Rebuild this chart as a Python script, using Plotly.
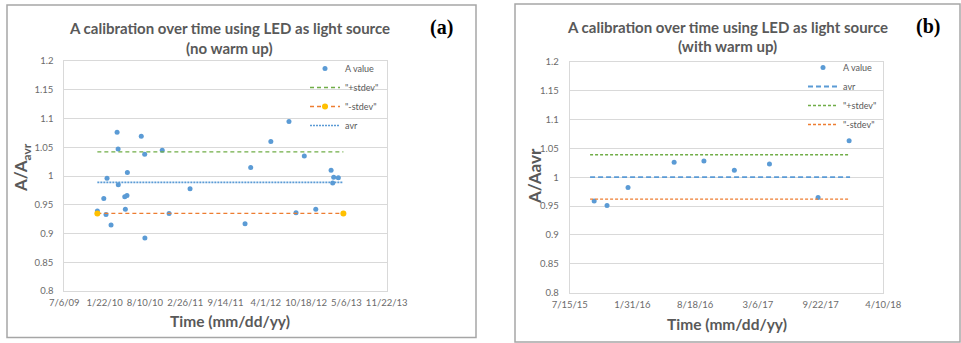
import pandas as pd
import plotly.graph_objects as go

# ---------------- data (Excel serial day numbers) ----------------
# Panel (a): no warm up
a_days = [40164, 40196, 40207, 40212, 40232, 40262, 40267, 40268, 40300, 40303,
          40311, 40313, 40382, 40399, 40400, 40486, 40520, 40624, 40897, 40925,
          41025, 41115, 41150, 41191, 41248, 41324, 41332, 41337, 41360]
a_vals = [0.939, 0.961, 0.933, 0.996, 0.915, 1.076, 1.047, 0.985, 0.964, 0.942,
          0.966, 1.006, 1.069, 1.038, 0.892, 1.045, 0.935, 0.978, 0.917, 1.015,
          1.060, 1.095, 0.936, 1.035, 0.942, 1.010, 0.988, 0.998, 0.997]
a_line_days = [40164, 41385]
a_plus = [1.042, 1.042]
a_minus = [0.935, 0.935]
a_avr = [0.989, 0.989]

# Panel (b): with warm up
b_days = [42278, 42319, 42386, 42533, 42628, 42725, 42837, 42992, 43091]
b_vals = [0.959, 0.951, 0.982, 1.026, 1.028, 1.012, 1.023, 0.965, 1.063]
b_line_days = [42265, 43094]
b_avr = [1.000, 1.000]
b_plus = [1.039, 1.039]
b_minus = [0.962, 0.962]

# axis ticks
a_tick_days = [40000, 40200, 40400, 40600, 40800, 41000, 41200, 41400, 41600]
a_tick_text = ["7/6/09", "1/22/10", "8/10/10", "2/26/11", "9/14/11", "4/1/12",
               "10/18/12", "5/6/13", "11/22/13"]
b_tick_days = [42200, 42400, 42600, 42800, 43000, 43200]
b_tick_text = ["7/15/15", "1/31/16", "8/18/16", "3/6/17", "9/22/17", "4/10/18"]
y_ticks = [0.8, 0.85, 0.9, 0.95, 1.0, 1.05, 1.1, 1.15, 1.2]
y_tick_text = ["0.8", "0.85", "0.9", "0.95", "1", "1.05", "1.1", "1.15", "1.2"]


def d(serials):
    return pd.to_datetime(serials, unit="D", origin="1899-12-30")


W, H = 961, 343
BLUE = "#5B9BD5"
ORANGE = "#ED7D31"
GREEN = "#70AD47"
YELLOW = "#FFC000"
GRAY = "#595959"
GRID = "#D9D9D9"
TICKF = dict(family="Lato, Open Sans, sans-serif", size=9.5, color="#6b6b6b")

fig = go.Figure()

# ---- panel a ----
fig.add_trace(go.Scatter(x=d(a_days), y=a_vals, mode="markers", name="A value",
                         marker=dict(color=BLUE, size=5), xaxis="x", yaxis="y",
                         legend="legend"))
fig.add_trace(go.Scatter(x=d(a_line_days), y=a_plus, mode="lines", name='"+stdev"',
                         line=dict(color=GREEN, width=1.4, dash="4px,3px"),
                         xaxis="x", yaxis="y", legend="legend"))
fig.add_trace(go.Scatter(x=d(a_line_days), y=a_minus, mode="lines+markers", name='"-stdev"',
                         line=dict(color=ORANGE, width=1.4, dash="4px,3px"),
                         marker=dict(color=YELLOW, size=6),
                         xaxis="x", yaxis="y", legend="legend"))
fig.add_trace(go.Scatter(x=d(a_line_days), y=a_avr, mode="lines", name="avr",
                         line=dict(color=BLUE, width=1.6, dash="2px,1px"),
                         xaxis="x", yaxis="y", legend="legend"))

# ---- panel b ----
fig.add_trace(go.Scatter(x=d(b_days), y=b_vals, mode="markers", name="A value",
                         marker=dict(color=BLUE, size=5), xaxis="x2", yaxis="y2",
                         legend="legend2"))
fig.add_trace(go.Scatter(x=d(b_line_days), y=b_avr, mode="lines", name="avr",
                         line=dict(color=BLUE, width=1.8, dash="5px,3px"),
                         xaxis="x2", yaxis="y2", legend="legend2"))
fig.add_trace(go.Scatter(x=d(b_line_days), y=b_plus, mode="lines", name='"+stdev"',
                         line=dict(color=GREEN, width=1.4, dash="3px,2px"),
                         xaxis="x2", yaxis="y2", legend="legend2"))
fig.add_trace(go.Scatter(x=d(b_line_days), y=b_minus, mode="lines", name='"-stdev"',
                         line=dict(color=ORANGE, width=1.4, dash="3px,2px"),
                         xaxis="x2", yaxis="y2", legend="legend2"))


def px_x(p):
    return p / W


def px_y(p):
    return 1 - p / H


xcommon = dict(type="date", showgrid=False, showline=True, linecolor=GRID, linewidth=1,
               mirror=True, ticks="outside", ticklen=3, tickcolor="rgba(0,0,0,0)",
               tickfont=TICKF, zeroline=False, fixedrange=True, automargin=False)
ycommon = dict(range=[0.8, 1.2], tickvals=y_ticks, ticktext=y_tick_text, showgrid=True,
               gridcolor=GRID, gridwidth=1, showline=True, linecolor=GRID, mirror=True,
               ticks="outside", ticklen=8, tickcolor="rgba(0,0,0,0)", tickfont=TICKF,
               zeroline=False, fixedrange=True, automargin=False)

legfont = dict(family="Lato, Open Sans, sans-serif", size=9, color=GRAY)

fig.update_layout(
    template="none",
    width=W, height=H, margin=dict(l=0, r=0, t=0, b=0, pad=0), autosize=False,
    paper_bgcolor="white", plot_bgcolor="white",
    xaxis=dict(xcommon, domain=[px_x(64.3), px_x(386.7)], anchor="y",
               range=[d([a_tick_days[0]])[0], d([a_tick_days[-1]])[0]],
               tickvals=d(a_tick_days), ticktext=a_tick_text),
    yaxis=dict(ycommon, domain=[px_y(291), px_y(61)], anchor="x"),
    xaxis2=dict(xcommon, domain=[px_x(569.7), px_x(883.3)], anchor="y2",
                range=[d([b_tick_days[0]])[0], d([b_tick_days[-1]])[0]],
                tickvals=d(b_tick_days), ticktext=b_tick_text),
    yaxis2=dict(ycommon, domain=[px_y(292.7), px_y(61.7)], anchor="x2"),
    legend=dict(x=px_x(384), y=px_y(54), xanchor="right", yanchor="top",
                bgcolor="rgba(0,0,0,0)", font=legfont, tracegroupgap=0,
                itemwidth=30, borderwidth=0),
    legend2=dict(x=px_x(882), y=px_y(53), xanchor="right", yanchor="top",
                 bgcolor="rgba(0,0,0,0)", font=legfont, tracegroupgap=0,
                 itemwidth=30, borderwidth=0),
    showlegend=True,
)

# panel borders
fig.add_shape(type="rect", xref="paper", yref="paper", x0=px_x(7), x1=px_x(476),
              y0=px_y(337.5), y1=px_y(5), line=dict(color="#A6A6A6", width=1.5))
fig.add_shape(type="rect", xref="paper", yref="paper", x0=px_x(515), x1=px_x(960),
              y0=px_y(342), y1=px_y(4), line=dict(color="#A6A6A6", width=1.5))

TITLEF = dict(family="Lato, Open Sans, sans-serif", size=15, color=GRAY)
AXTF = dict(family="Lato, Open Sans, sans-serif", size=15.5, color=GRAY)

ann = [
    dict(x=px_x(229), y=px_y(28), text="<b>A calibration over time using LED as light source</b>",
         font=TITLEF),
    dict(x=px_x(229), y=px_y(48), text="<b>(no warm up)</b>", font=TITLEF),
    dict(x=px_x(441), y=px_y(28), text="<b>(a)</b>",
         font=dict(family="Liberation Serif, serif", size=20, color="black")),
    dict(x=px_x(230), y=px_y(321), text="<b>Time (mm/dd/yy)</b>", font=AXTF),
    dict(x=px_x(22), y=px_y(168), text="<b>A/A<sub>avr</sub></b>", textangle=-90,
         font=dict(AXTF, size=17)),
    dict(x=px_x(727), y=px_y(27), text="<b>A calibration over time using LED as light source</b>",
         font=TITLEF),
    dict(x=px_x(727), y=px_y(46), text="<b>(with warm up)</b>", font=TITLEF),
    dict(x=px_x(928), y=px_y(27), text="<b>(b)</b>",
         font=dict(family="Liberation Serif, serif", size=20, color="black")),
    dict(x=px_x(727), y=px_y(324), text="<b>Time (mm/dd/yy)</b>", font=AXTF),
    dict(x=px_x(534), y=px_y(176), text="<b>A/Aavr</b>", textangle=-90,
         font=dict(AXTF, size=17)),
]
for a in ann:
    fig.add_annotation(dict(xref="paper", yref="paper", showarrow=False,
                            xanchor="center", yanchor="middle"), **a)

fig.write_html("out.html", config={"displayModeBar": False},
               post_script="document.body.style.margin='0';document.body.style.overflow='hidden';")
